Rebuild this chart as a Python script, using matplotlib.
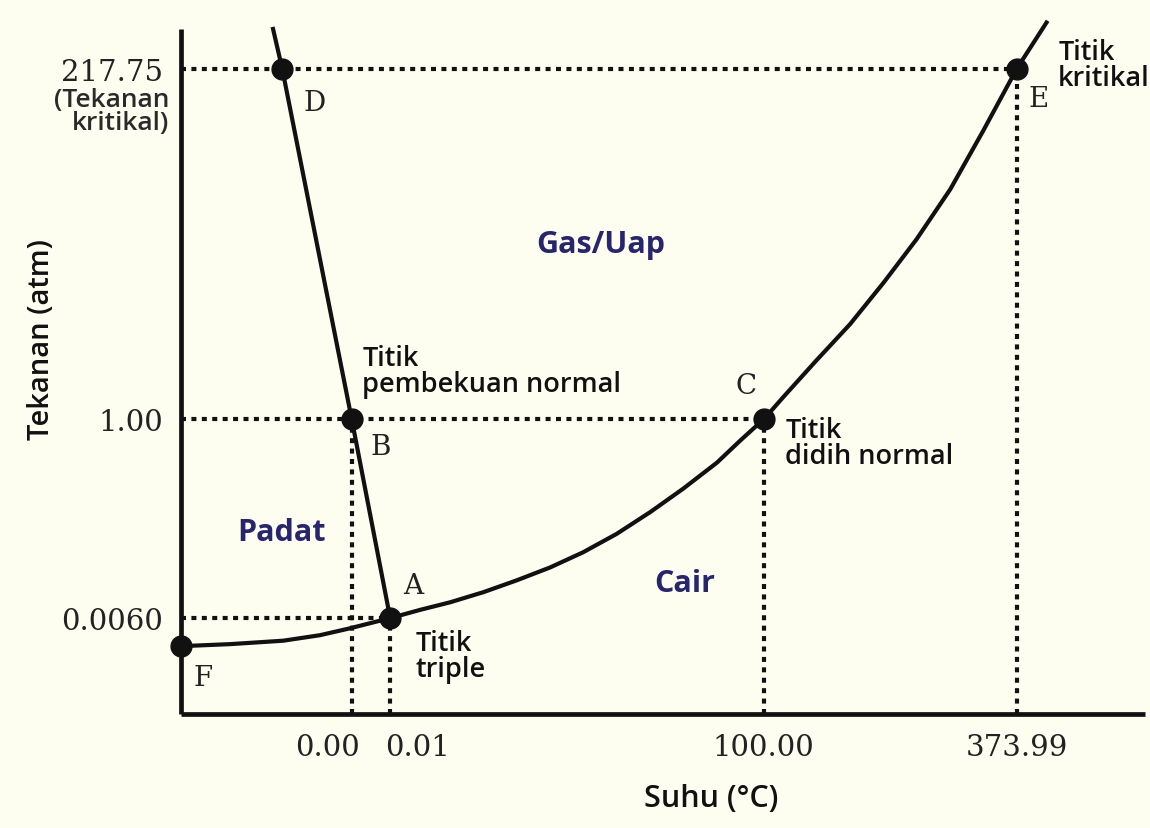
import matplotlib
matplotlib.use("Agg")
import matplotlib.pyplot as plt

# ---------------------------
# Data (schematic diagram units)
# x: 0..100 along the temperature axis, y: 0..100 along the pressure axis
# ---------------------------
point_names = ["A", "B", "C", "D", "E", "F"]
point_x = [21.7, 17.7, 60.5, 10.5, 86.7, 0.0]
point_y = [14.0, 43.1, 43.1, 94.2, 94.2, 9.9]

# sublimation + vaporisation curve F -> A -> C -> E
curve_x = [0.0, 5.1, 10.6, 14.4, 17.5, 21.7, 24.8, 27.9, 31.4, 34.8, 38.3,
           41.7, 45.2, 48.7, 52.1, 55.6, 58.0, 60.5, 62.5, 65.9, 69.4, 72.9,
           76.3, 79.8, 83.2, 86.7, 89.9]
curve_y = [9.9, 10.2, 10.7, 11.5, 12.5, 14.0, 15.2, 16.3, 17.8, 19.5, 21.4,
           23.6, 26.3, 29.5, 32.9, 36.7, 39.9, 43.1, 46.3, 51.6, 56.9, 63.0,
           69.3, 76.6, 85.1, 94.2, 101.2]

# melting line (top) -> D -> B -> A
melt_x = [9.5, 10.5, 17.7, 21.7]
melt_y = [100.3, 94.2, 43.1, 14.0]

# tick labels
temp_labels = ["0.00", "0.01", "100.00", "373.99"]
temp_label_x = [15.2, 24.5, 60.4, 86.7]
press_labels = ["0.0060", "1.00", "217.75"]

P = dict(zip(point_names, zip(point_x, point_y)))

# ---------------------------
# Figure
# ---------------------------
bg = "#fdfdf0"
ink = "#111111"
navy = "#27256e"
fig = plt.figure(figsize=(11.5, 8.29), dpi=100, facecolor=bg)
ax = fig.add_axes([181 / 1150, 114 / 829, 964 / 1150, 685 / 829])
ax.set_facecolor(bg)
ax.set_xlim(0, 100)
ax.set_ylim(0, 100)

for s in ["top", "right"]:
    ax.spines[s].set_visible(False)
for s in ["left", "bottom"]:
    ax.spines[s].set_linewidth(3.4)
    ax.spines[s].set_color(ink)
    ax.spines[s].set_capstyle("butt")

# dotted guide lines
dot = dict(color=ink, lw=3.0, linestyle=(0, (1.2, 1.3)), zorder=2)
ax.plot([0, P["E"][0]], [P["E"][1]] * 2, **dot)
ax.plot([0, P["C"][0]], [P["C"][1]] * 2, **dot)
ax.plot([0, P["A"][0]], [P["A"][1]] * 2, **dot)
for name in ["B", "A", "C", "E"]:
    ax.plot([P[name][0]] * 2, [0, P[name][1]], **dot)

# phase boundaries
ax.plot(curve_x, curve_y, color=ink, lw=3.0, zorder=3, clip_on=False,
        solid_capstyle="butt", solid_joinstyle="round")
ax.plot(melt_x, melt_y, color=ink, lw=3.0, zorder=3, clip_on=False,
        solid_capstyle="butt")
ax.plot(point_x, point_y, "o", color=ink, ms=15, zorder=4, clip_on=False)

# ticks
ax.set_xticks(temp_label_x)
ax.set_xticklabels(temp_labels)
ax.set_yticks([P["A"][1], P["B"][1], P["D"][1]])
ax.set_yticklabels(press_labels)
ax.tick_params(length=0, labelsize=21, colors="#222222")
ax.tick_params(axis="x", pad=14)
ax.tick_params(axis="y", pad=13)
for lab in ax.get_xticklabels() + ax.get_yticklabels():
    lab.set_family("DejaVu Serif")

# point letters
letter_pos = {"D": (13.9, 89.3), "B": (20.7, 39.1), "A": (24.1, 18.7),
              "F": (2.3, 5.3), "C": (58.6, 48.0), "E": (89.0, 89.8)}
for name, (x, y) in letter_pos.items():
    ax.text(x, y, name, family="DejaVu Serif", fontsize=20, color="#222222",
            ha="center", va="center", clip_on=False)

# annotations
note = dict(family="Open Sans", fontweight="semibold", fontsize=19.5,
            color=ink, ha="left", va="top", linespacing=0.92, clip_on=False)
ax.text(18.8, 54.0, "Titik\npembekuan normal", **note)
ax.text(62.7, 43.5, "Titik\ndidih normal", **note)
ax.text(24.3, 12.4, "Titik\ntriple", **note)
ax.text(91.0, 98.7, "Titik\nkritikal", **note)
ax.text(-1.2, 88.0, "(Tekanan\nkritikal)", family="Open Sans",
        fontweight="semibold", fontsize=19, color="#2a2a2a", ha="right",
        va="center", linespacing=0.88, clip_on=False)

# phase regions
phase = dict(family="Open Sans", fontweight="bold", fontsize=22,
             color=navy, ha="center", va="center")
ax.text(43.5, 68.6, "Gas/Uap", **phase)
ax.text(10.4, 26.6, "Padat", **phase)
ax.text(52.2, 19.1, "Cair", **phase)

# axis titles
ax.text(-0.145, 0.548, "Tekanan (atm)", transform=ax.transAxes, rotation=90,
        family="Open Sans", fontweight="semibold", fontsize=21, color=ink,
        ha="center", va="center")
ax.text(0.55, -0.123, "Suhu (°C)", transform=ax.transAxes,
        family="Open Sans", fontweight="semibold", fontsize=22, color=ink,
        ha="center", va="center")

fig.savefig("out.png", dpi=100, facecolor=bg)
